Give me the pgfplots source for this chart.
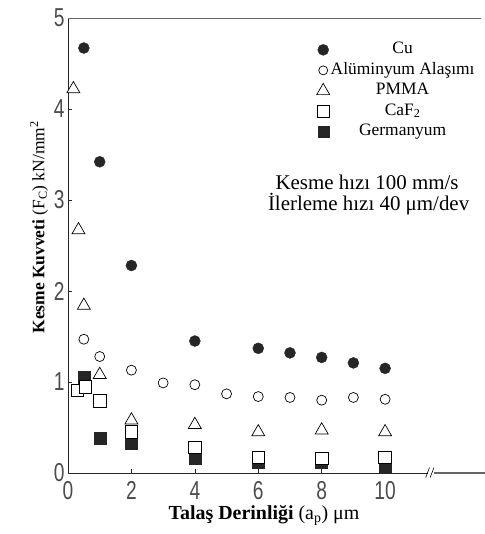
\documentclass[border=0pt]{standalone}
\usepackage{fontspec}
\setmainfont{Liberation Serif}
\newfontfamily\tickfont{Liberation Sans}
\usepackage{pgfplots}
\pgfplotsset{compat=1.18}
\pgfplotstableread{
x y
0.5 4.67
1 3.42
2 2.28
4 1.45
6 1.37
7 1.32
8 1.27
9 1.21
10 1.15
}\cu
\pgfplotstableread{
x y
0.5 1.47
1 1.28
2 1.13
3 0.99
4 0.97
5 0.87
6 0.84
7 0.83
8 0.80
9 0.83
10 0.81
}\al
\pgfplotstableread{
x y
0.17 4.22
0.33 2.67
0.5 1.84
1 1.08
2 0.58
4 0.53
6 0.45
8 0.47
10 0.45
}\pmma
\pgfplotstableread{
x y
0.3 0.91
0.55 0.95
1 0.79
2 0.45
4 0.28
6 0.17
8 0.16
10 0.17
}\caf
\pgfplotstableread{
x y
0.5 1.05
1 0.38
2 0.33
4 0.16
6 0.12
8 0.12
10 0.08
}\ge
\begin{document}
\begin{tikzpicture}
\begin{axis}[
 at={(0,0)}, anchor=south west,
 scale only axis, width=417bp, height=455bp,
 xmin=0, xmax=13.15, ymin=0, ymax=5,
 axis lines=left,
 axis line style={-, black!85, line width=0.6pt},
 xtick={0,2,...,10}, ytick={0,1,...,5},
 tick align=inside, major tick length=4bp,
 tick style={black!85, line width=0.5pt},
 /pgf/number format/assume math mode=true,
 tick label style={font=\tickfont\fontsize{26}{26}\selectfont, text=black!70, xscale=0.74},
 xticklabel style={yshift=-5bp},
 yticklabel style={xshift=-1bp},
 clip=false,
 xlabel={\textbf{Talaş Derinliği} (a\textsubscript{p}) μm},
 xlabel style={font=\fontsize{20}{22}\selectfont, at={(ticklabel cs:0.47,0)}, anchor=north, yshift=1bp},
 ylabel={\textbf{Kesme Kuvveti} (F\textsubscript{C}) kN/mm\textsuperscript{2}},
 ylabel style={font=\fontsize{17.5}{20}\selectfont, at={(ticklabel cs:0.54,0)}, anchor=south, xshift=0bp},
 legend style={at={(0.596,0.948)}, anchor=north west, draw=none, fill=none,
   font=\fontsize{17.5}{18}\selectfont, inner sep=0pt, row sep=4.5bp,
   nodes={inner sep=1bp, text height=11bp, text depth=3bp}},
 legend cell align=center,
]
\addlegendimage{only marks, mark=*, mark size=5.5bp, draw=black!85, fill=black!85}
\addlegendentry{Cu}
\addlegendimage{only marks, mark=*, mark size=4.5bp, draw=black, fill=white, line width=0.7pt}
\addlegendentry{Alüminyum Alaşımı}
\addlegendimage{only marks, mark=triangle*, mark size=7.5bp, draw=black, fill=white, line width=0.7pt}
\addlegendentry{PMMA}
\addlegendimage{only marks, mark=square*, mark size=6bp, draw=black, fill=white, line width=0.7pt}
\addlegendentry{CaF\textsubscript{2}}
\addlegendimage{only marks, mark=square*, mark size=5.5bp, draw=black!85, fill=black!85}
\addlegendentry{Germanyum}

\addplot[forget plot, only marks, mark=square*, mark size=6bp, draw=black!85, fill=black!85] table {\ge};
\addplot[forget plot, only marks, mark=square*, mark size=6.3bp, draw=black, fill=white, line width=0.7pt] table {\caf};
\addplot[forget plot, only marks, mark=triangle*, mark size=7.5bp, draw=black, fill=white, line width=0.7pt] table {\pmma};
\addplot[forget plot, only marks, mark=*, mark size=5bp, draw=black, fill=white, line width=0.7pt] table {\al};
\addplot[forget plot, only marks, mark=*, mark size=5.5bp, draw=black!85, fill=black!85] table {\cu};

\draw[black!60, line width=0.6pt] (rel axis cs:0,1) -- (rel axis cs:0.99,1);
\draw[white, line width=2pt] (axis cs:11.35,0) -- (axis cs:11.55,0);
\draw[black!60, line width=1.6pt] (axis cs:11.55,0) -- (rel axis cs:1,0);
\draw[black, line width=0.6pt] (axis cs:11.28,-0.05) -- (axis cs:11.40,0.06);
\draw[black, line width=0.6pt] (axis cs:11.42,-0.05) -- (axis cs:11.54,0.06);

\node[font=\fontsize{21}{21}\selectfont] at (axis cs:9.43,3.19) {Kesme hızı 100 mm/s};
\node[font=\fontsize{21}{21}\selectfont] at (axis cs:9.48,2.95) {İlerleme hızı 40 μm/dev};
\end{axis}
\pgfresetboundingbox
\path[use as bounding box] (-68bp,-61bp) rectangle (417bp,473bp);
\end{tikzpicture}
\end{document}
